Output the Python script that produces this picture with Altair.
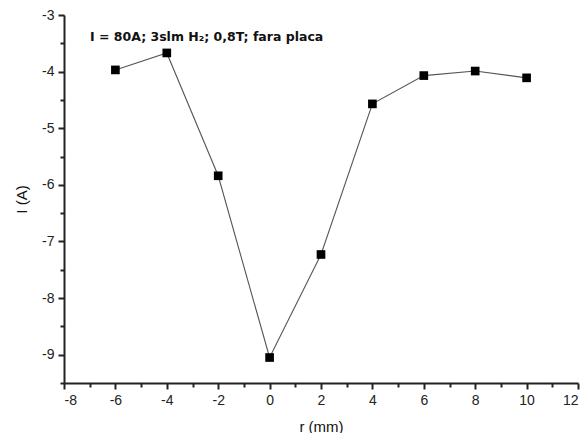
import altair as alt
import pandas as pd

r_mm = [-6, -4, -2, 0, 2, 4, 6, 8, 10]
current = [-3.97, -3.67, -5.84, -9.05, -7.23, -4.57, -4.07, -3.99, -4.11]
x_major = [-8, -6, -4, -2, 0, 2, 4, 6, 8, 10, 12]
x_minor = [-7, -5, -3, -1, 1, 3, 5, 7, 9, 11]
y_major = [-3, -4, -5, -6, -7, -8, -9]
y_minor = [-3.5, -4.5, -5.5, -6.5, -7.5, -8.5, -9.5]
note = "I = 80A; 3slm H\u2082; 0,8T; fara placa"

df = pd.DataFrame({"r": r_mm, "I": current})
FONT = "Liberation Sans"

xs = alt.Scale(domain=[-8, 12], nice=False, zero=False)
ys = alt.Scale(domain=[-9.5, -3], nice=False, zero=False)

major_x = alt.Axis(values=x_major, title="r (mm)", orient="bottom", tickSize=6, tickWidth=2,
                   domainWidth=2, domainColor="#222", tickColor="#222", grid=False,
                   labelFont=FONT, labelFontSize=14, labelColor="#222", labelPadding=4,
                   titleFont=FONT, titleFontSize=15, titleFontWeight="normal", titleColor="#111",
                   titlePadding=12, labelExpr="'' + datum.value")
major_y = alt.Axis(values=y_major, title="I (A)", orient="left", tickSize=6, tickWidth=2,
                   domainWidth=2, domainColor="#222", tickColor="#222", grid=False,
                   labelFont=FONT, labelFontSize=14, labelColor="#222", labelPadding=4,
                   titleFont=FONT, titleFontSize=15, titleFontWeight="normal", titleColor="#111",
                   titlePadding=12, labelExpr="'' + datum.value")
minor_x = alt.Axis(values=x_minor, title=None, orient="bottom", tickSize=4, tickWidth=2,
                   domain=False, labels=False, tickColor="#222", grid=False)
minor_y = alt.Axis(values=y_minor, title=None, orient="left", tickSize=4, tickWidth=2,
                   domain=False, labels=False, tickColor="#222", grid=False)

line = alt.Chart(df).mark_line(color="#555", strokeWidth=1.1).encode(
    x=alt.X("r:Q", scale=xs, axis=major_x),
    y=alt.Y("I:Q", scale=ys, axis=major_y),
)
pts = alt.Chart(df).mark_square(size=75, color="black", opacity=1).encode(
    x=alt.X("r:Q", scale=xs, axis=minor_x),
    y=alt.Y("I:Q", scale=ys, axis=minor_y),
)
txt = alt.Chart(pd.DataFrame({"t": [note]})).mark_text(
    align="left", baseline="middle", font="DejaVu Sans", fontSize=12.5, fontWeight="bold", color="#111"
).encode(x=alt.value(26), y=alt.value(22), text="t:N")

chart = alt.layer(line, pts, txt).resolve_axis(x="independent", y="independent").properties(
    width=514, height=368,
    autosize=alt.AutoSizeParams(type="none"),
    padding={"left": 56, "top": 7, "right": 2, "bottom": 50},
).configure_view(stroke=None)

chart.save("out.html", embed_options={"renderer": "svg", "actions": False})
